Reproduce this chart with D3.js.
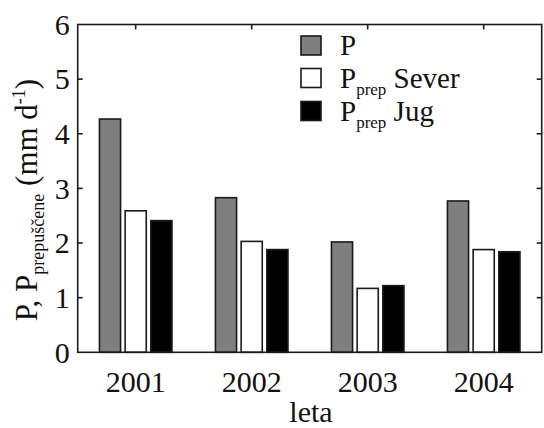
<!DOCTYPE html>
<html>
<head>
<meta charset="utf-8">
<script src="https://cdn.jsdelivr.net/npm/d3@7"></script>
<style>
html,body{margin:0;padding:0;background:#fff;overflow:hidden;}
svg{display:block;}
</style>
</head>
<body>
<svg id="chart" width="544" height="428"></svg>
<script>
const years = ["2001","2002","2003","2004"];
const seriesNames = ["P","Sever","Jug"];
const valuesP = [4.27, 2.83, 2.02, 2.77];
const valuesSever = [2.59, 2.03, 1.17, 1.88];
const valuesJug = [2.41, 1.88, 1.22, 1.84];
const yTicks = [0,1,2,3,4,5,6];
const colors = ["#7f7f7f","#ffffff","#000000"];

const FONT = "'Liberation Serif', 'Times New Roman', Times, 'DejaVu Serif', serif";
const svg = d3.select("#chart").style("font-family", FONT);
const m = {left:77.7, right:541.7, top:24.5, bottom:352.3};

const x = d3.scaleBand().domain(years).range([m.left, m.right]).paddingInner(0).paddingOuter(0);
const y = d3.scaleLinear().domain([0,6]).range([m.bottom, m.top]);
const groupW = 74;
const xs = d3.scaleBand().domain(seriesNames).range([-groupW/2, groupW/2]).paddingInner(0.12).paddingOuter(0);

const data = years.map((yr,i)=>({year:yr, vals:[valuesP[i], valuesSever[i], valuesJug[i]]}));

function txt(sel){ return sel.attr("font-family", FONT).attr("fill", "#111"); }

const g = svg.append("g");
data.forEach(d=>{
  const cx = x(d.year) + x.bandwidth()/2;
  seriesNames.forEach((s,j)=>{
    g.append("rect")
      .attr("x", cx + xs(s) + 0.75)
      .attr("y", y(d.vals[j]))
      .attr("width", xs.bandwidth() - 1.5)
      .attr("height", y(0) - y(d.vals[j]))
      .attr("fill", colors[j])
      .attr("stroke", "#1a1a1a")
      .attr("stroke-width", 1.6);
  });
});

const axisG = svg.append("g");
axisG.append("rect")
  .attr("x", m.left).attr("y", m.top)
  .attr("width", m.right-m.left).attr("height", m.bottom-m.top)
  .attr("fill","none").attr("stroke","#1a1a1a").attr("stroke-width",1.6);

yTicks.forEach(t=>{
  if (t===0 || t===6) return;
  axisG.append("line").attr("x1",m.left).attr("x2",m.left+5).attr("y1",y(t)).attr("y2",y(t)).attr("stroke","#1a1a1a").attr("stroke-width",1.6);
  axisG.append("line").attr("x1",m.right).attr("x2",m.right-5).attr("y1",y(t)).attr("y2",y(t)).attr("stroke","#1a1a1a").attr("stroke-width",1.6);
});
yTicks.forEach(t=>{
  txt(axisG.append("text")).attr("x",m.left-8).attr("y",y(t)).attr("dy","0.34em")
    .attr("text-anchor","end").attr("font-size",30).text(t);
});
years.forEach(yr=>{
  const cx = x(yr)+x.bandwidth()/2;
  axisG.append("line").attr("x1",cx).attr("x2",cx).attr("y1",m.top).attr("y2",m.top+5).attr("stroke","#1a1a1a").attr("stroke-width",1.6);
  txt(axisG.append("text")).attr("x",cx).attr("y",392).attr("text-anchor","middle").attr("font-size",30).text(yr);
});

txt(svg.append("text")).attr("x",311).attr("y",422).attr("text-anchor","middle").attr("font-size",30).text("leta");

const yl = txt(svg.append("text")).attr("transform","translate(37,200) rotate(-90)").attr("text-anchor","middle").attr("font-size",31);
yl.append("tspan").text("P, P");
yl.append("tspan").attr("font-size",18).attr("dy",7).text("prepuščene");
yl.append("tspan").attr("dy",-7).text(" (mm d");
yl.append("tspan").attr("font-size",18).attr("dy",-12).text("-1");
yl.append("tspan").attr("dy",12).text(")");

const legendLabels = [["P"],["P","prep","Sever"],["P","prep","Jug"]];
const legY = [45.5, 78, 111];
legendLabels.forEach((lab,i)=>{
  svg.append("rect").attr("x",301).attr("y",legY[i]-9.5).attr("width",20).attr("height",19)
    .attr("fill",colors[i]).attr("stroke","#1a1a1a").attr("stroke-width",1.6);
  const t = txt(svg.append("text")).attr("x",340).attr("y",legY[i]+9.5).attr("font-size",29);
  t.append("tspan").text(lab[0]);
  if (lab.length>2){
    t.append("tspan").attr("font-size",17).attr("dy",7).text(lab[1]);
    t.append("tspan").attr("dy",-7).text(" "+lab[2]);
  }
});
</script>
</body>
</html>
